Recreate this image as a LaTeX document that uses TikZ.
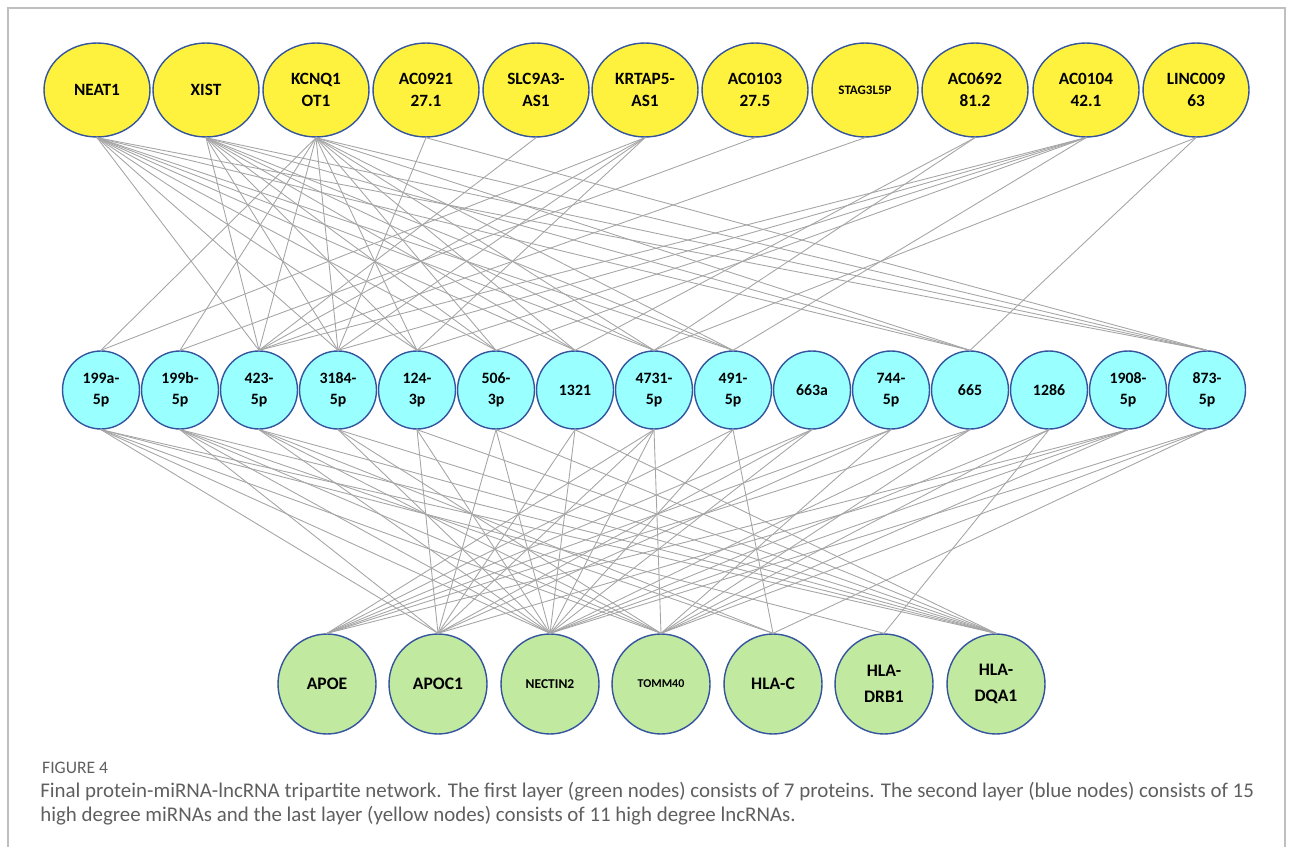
\documentclass[tikz,border=0pt]{standalone}
\usepackage{fontspec}
\setmainfont{Carlito}
\usepackage{tikz}
\usetikzlibrary{shapes}
\definecolor{lncyellow}{RGB}{255,242,62}
\definecolor{micyan}{RGB}{153,255,255}
\definecolor{protgreen}{RGB}{193,233,160}
\definecolor{rimblue}{RGB}{52,84,158}
\definecolor{linkgray}{RGB}{165,165,165}
\definecolor{capgray}{RGB}{95,95,95}
\tikzstyle{lnc} = [ellipse,draw=rimblue,line width=0.8pt,fill=lncyellow,inner sep=0pt,minimum width=2.12cm,minimum height=1.88cm,align=center,font=\fontsize{9.8}{12.5}\selectfont\bfseries]
\tikzstyle{mirna} = [ellipse,draw=rimblue,line width=0.8pt,fill=micyan,inner sep=0pt,minimum width=1.54cm,minimum height=1.56cm,align=center,font=\fontsize{9}{12}\selectfont\bfseries]
\tikzstyle{prot} = [ellipse,draw=rimblue,line width=0.8pt,fill=protgreen,inner sep=0pt,minimum width=1.96cm,minimum height=2cm,align=center,font=\fontsize{10}{15}\selectfont\bfseries]
\tikzstyle{link} = [draw=linkgray,line width=0.5pt]

\begin{document}
\begin{tikzpicture}[x=0.02cm,y=-0.02cm]
\useasboundingbox (0,0) rectangle (1293,847);
\draw [color=black!25,line width=0.6pt] (8,847) -- (8,8) -- (1285,8) -- (1285,847);

% lncRNA layer
\node[lnc] (neat) at (97,90) {NEAT1};
\node[lnc] (xist) at (206,90) {XIST};
\node[lnc] (kcnq) at (316,90) {KCNQ1\\OT1};
\node[lnc] (acA) at (426,90) {AC0921\\27.1};
\node[lnc] (slc) at (536,90) {SLC9A3-\\AS1};
\node[lnc] (krtap) at (645,90) {KRTAP5-\\AS1};
\node[lnc] (acB) at (755,90) {AC0103\\27.5};
\node[lnc,font=\fontsize{7.4}{9}\selectfont\bfseries] (stag) at (865,90) {STAG3L5P};
\node[lnc] (acC) at (975,90) {AC0692\\81.2};
\node[lnc] (acD) at (1086,90) {AC0104\\42.1};
\node[lnc] (linc) at (1196,90) {LINC009\\63};

% miRNA layer
\node[mirna] (m199a) at (101,390) {199a-\\5p};
\node[mirna] (m199b) at (180,390) {199b-\\5p};
\node[mirna] (m423) at (259,390) {423-\\5p};
\node[mirna] (m3184) at (338,390) {3184-\\5p};
\node[mirna] (m124) at (417,390) {124-\\3p};
\node[mirna] (m506) at (496,390) {506-\\3p};
\node[mirna] (m1321) at (575,390) {1321};
\node[mirna] (m4731) at (654,390) {4731-\\5p};
\node[mirna] (m491) at (733,390) {491-\\5p};
\node[mirna] (m663a) at (812,390) {663a};
\node[mirna] (m744) at (891,390) {744-\\5p};
\node[mirna] (m665) at (970,390) {665};
\node[mirna] (m1286) at (1049,390) {1286};
\node[mirna] (m1908) at (1128,390) {1908-\\5p};
\node[mirna] (m873) at (1207,390) {873-\\5p};

% protein layer
\node[prot] (apoe) at (327,684) {APOE};
\node[prot] (apoc) at (438,684) {APOC1};
\node[prot,font=\fontsize{7.7}{10}\selectfont\bfseries] (nectin) at (550,684) {NECTIN2};
\node[prot,font=\fontsize{6.8}{9}\selectfont\bfseries] (tomm) at (661,684) {TOMM40};
\node[prot] (hlac) at (773,684) {HLA-C};
\node[prot] (drb) at (884,684) {HLA-\\DRB1};
\node[prot] (dqa) at (996,684) {HLA-\\DQA1};

% lncRNA -- miRNA
\foreach \m in {m423,m3184,m124,m506,m1321,m4731,m491,m665,m873}
  \draw [link] (neat.south) -- (\m.north);
\foreach \m in {m423,m3184,m124,m506,m1321,m4731,m491,m665,m873}
  \draw [link] (xist.south) -- (\m.north);
\foreach \m in {m199a,m199b,m423,m3184,m124,m506,m1321,m4731,m491,m665,m873}
  \draw [link] (kcnq.south) -- (\m.north);
\foreach \m in {m3184,m873}
  \draw [link] (acA.south) -- (\m.north);
\draw [link] (slc.south) -- (m423.north);
\foreach \m in {m199a,m423,m3184,m124}
  \draw [link] (krtap.south) -- (\m.north);
\draw [link] (acB.south) -- (m199b.north);
\draw [link] (stag.south) -- (m423.north);
\foreach \m in {m1321,m4731}
  \draw [link] (acC.south) -- (\m.north);
\foreach \m in {m423,m3184,m124,m506,m491}
  \draw [link] (acD.south) -- (\m.north);
\foreach \m in {m4731,m665}
  \draw [link] (linc.south) -- (\m.north);

% miRNA -- protein
\foreach \m/\p in {m199a/apoc,m199a/nectin,m199a/tomm,m199a/drb,m199a/dqa,
    m199b/apoc,m199b/nectin,m199b/tomm,m199b/hlac,m199b/dqa,
    m423/nectin,m423/tomm,m423/hlac,m423/dqa,
    m3184/nectin,m3184/tomm,m3184/dqa,
    m124/apoc,m124/nectin,m124/dqa,
    m506/apoc,m506/nectin,m506/dqa,
    m1321/apoc,m1321/nectin,m1321/dqa,
    m4731/apoe,m4731/apoc,m4731/nectin,m4731/tomm,
    m491/apoe,m491/nectin,m491/hlac,
    m663a/apoe,m663a/apoc,m663a/nectin,
    m744/apoe,m744/apoc,m744/tomm,
    m665/apoe,m665/nectin,m665/tomm,
    m1286/nectin,m1286/tomm,m1286/drb,
    m1908/apoe,m1908/apoc,m1908/nectin,m1908/tomm,
    m873/nectin,m873/tomm,m873/hlac}
  \draw [link] (\m.south) -- (\p.north);

% caption
\node[anchor=west,text=capgray,font=\fontsize{10}{12}\selectfont] (figlabel) at (36,768) {FIGURE 4};
\node[anchor=north west,text=capgray,align=left,inner sep=0pt,font=\fontsize{11.9}{13.6}\selectfont] (caption) at (40,782)
  {Final protein-miRNA-lncRNA tripartite network. The first layer (green nodes) consists of 7 proteins. The second layer (blue nodes) consists of 15\\
   high degree miRNAs and the last layer (yellow nodes) consists of 11 high degree lncRNAs.};
\end{tikzpicture}
\end{document}
